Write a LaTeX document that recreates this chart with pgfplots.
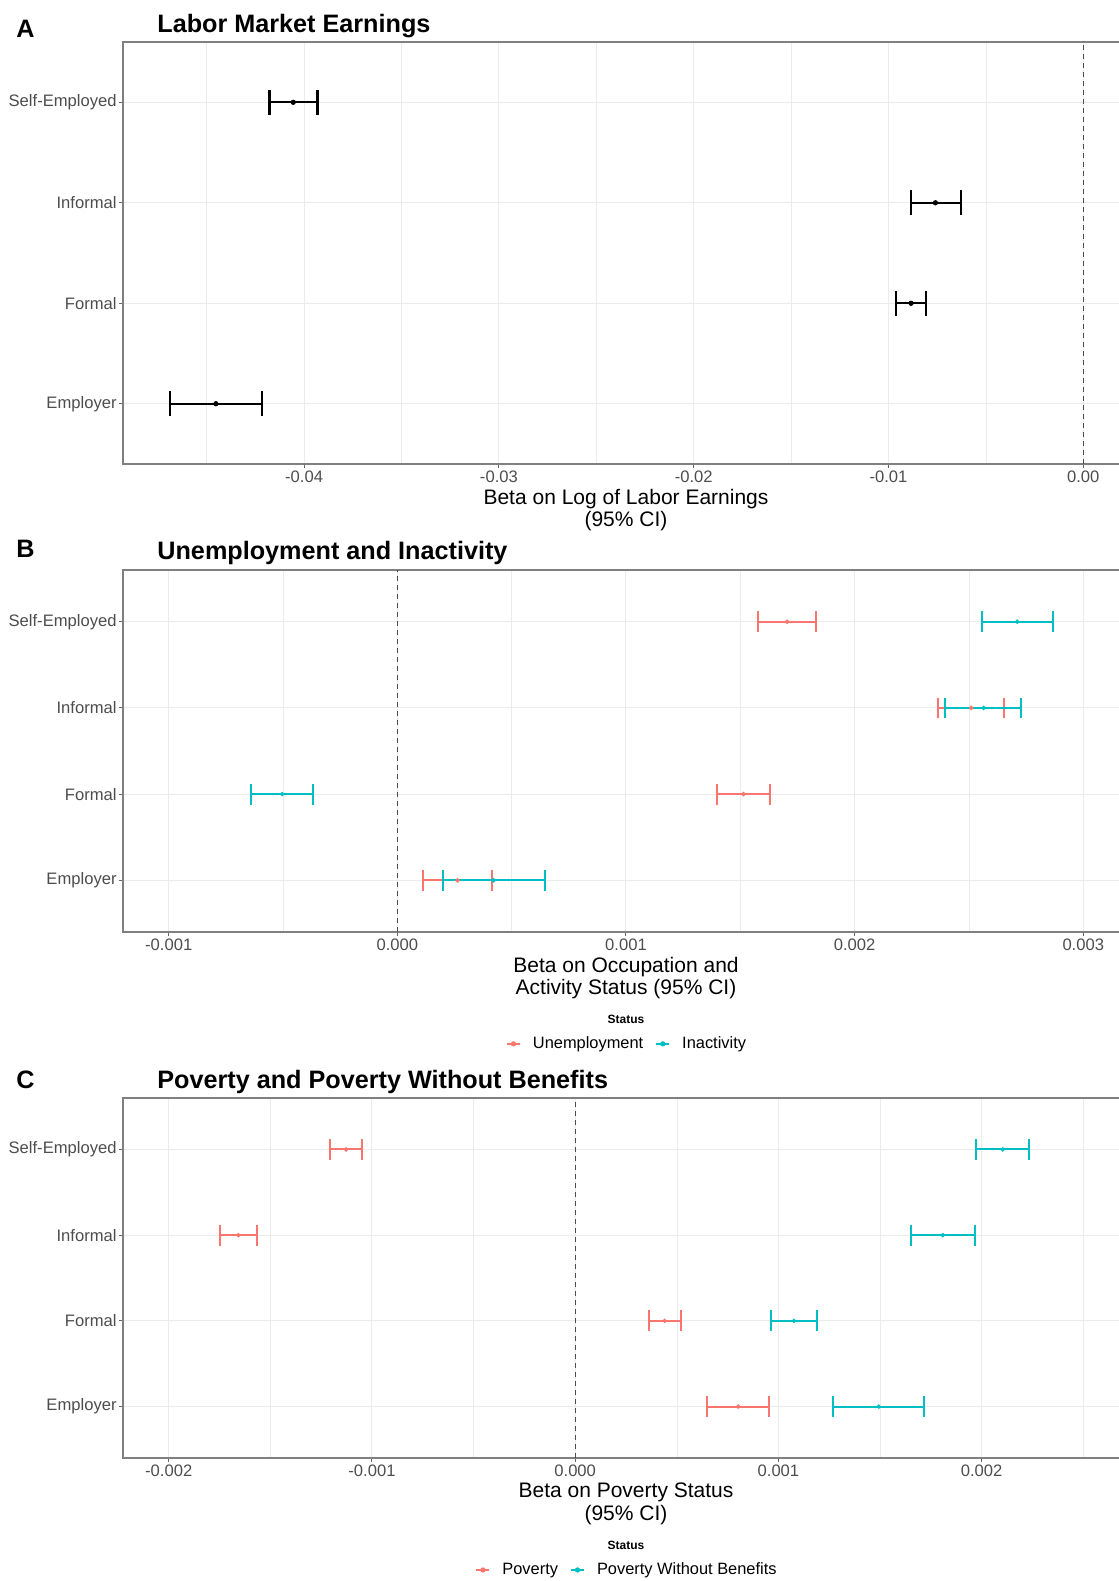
\documentclass[border=0pt]{standalone}
\usepackage{fontspec}
\setmainfont{Liberation Sans}
\usepackage{pgfplots}
\usepackage{pgfplotstable}
\pgfplotsset{compat=1.18}
\definecolor{redc}{HTML}{F8766D}
\definecolor{tealc}{HTML}{00BFC4}
\definecolor{gridc}{HTML}{EBEBEB}
\definecolor{tickc}{HTML}{4D4D4D}

% Panel A
\pgfplotstableread{
row est lo hi
4 -0.04056 -0.04177 -0.03932
3 -0.00759 -0.00885 -0.00628
2 -0.00884 -0.00961 -0.00808
1 -0.04453 -0.04689 -0.04215
}\tabA
% Panel B
\pgfplotstableread{
row est lo hi
4 0.001705 0.001579 0.001831
3 0.002510 0.002366 0.002653
2 0.001514 0.001399 0.001628
1 0.000263 0.000113 0.000414
}\tabUnemp
\pgfplotstableread{
row est lo hi
4 0.002711 0.002555 0.002868
3 0.002564 0.002397 0.002729
2 -0.000504 -0.000638 -0.000369
1 0.000421 0.000201 0.000644
}\tabInact
% Panel C
\pgfplotstableread{
row est lo hi
4 -0.001127 -0.001205 -0.001048
3 -0.001657 -0.001747 -0.001568
2 0.000440 0.000365 0.000520
1 0.000802 0.000648 0.000955
}\tabPov
\pgfplotstableread{
row est lo hi
4 0.002104 0.001970 0.002235
3 0.001809 0.001654 0.001965
2 0.001076 0.000962 0.001192
1 0.001494 0.001268 0.001718
}\tabPWB

\pgfplotsset{
  panel/.style={
    scale only axis, width=503pt, anchor=north west,
    ymin=0.4, ymax=4.6, ytick={1,2,3,4},
    yticklabels={Employer,Formal,Informal,Self-Employed},
    xmajorgrids, xminorgrids, ymajorgrids,
    major grid style={line width=0.5pt, draw=gridc},
    minor grid style={line width=0.3pt, draw=gridc},
    axis line style={draw=black!50, line width=0.6pt},
    tick align=outside, major tick length=2pt, minor tick length=0pt,
    tick style={draw=black!60, line width=0.5pt},
    xtick pos=lower, ytick pos=left,
    scaled x ticks=false,
    ticklabel style={font=\fontsize{8.3}{10}\selectfont, text=tickc},
    xticklabel style={inner sep=1.2pt},
    yticklabel style={inner sep=1pt},
    xlabel style={at={(axis description cs:0.5,0)}, anchor=north, yshift=-12.3pt,
      inner sep=0pt, align=center, font=\fontsize{10.5}{11.2}\selectfont},
    legend style={draw=none, fill=none, legend columns=2,
      font=\fontsize{8.2}{10}\selectfont, /tikz/column sep=6pt,
      nodes={inner sep=0pt}, inner sep=0pt},
  },
  zeroline/.style={forget plot, draw=black!70, line width=0.6pt, dash pattern=on 2.5pt off 2pt},
  blackbar/.style={only marks, mark=*, mark size=1.1pt, mark options={draw=black, fill=black},
    error bars/.cd, x dir=both, x explicit, error mark=|,
    error bar style={line width=1.2pt, draw=black},
    error mark options={line width=1.2pt, mark size=6.3pt, draw=black}},
  redbar/.style={only marks, mark=*, mark size=0.95pt, mark options={draw=redc, fill=redc},
    legend image code/.code={\draw[line width=1pt, redc] (0pt,0pt) -- (6.5pt,0pt);
      \fill[redc] (3.25pt,0pt) circle (1.1pt);},
    error bars/.cd, x dir=both, x explicit, error mark=|,
    error bar style={line width=1pt, draw=redc},
    error mark options={line width=1pt, mark size=5.2pt, draw=redc}},
  tealbar/.style={only marks, mark=*, mark size=0.95pt, mark options={draw=tealc, fill=tealc},
    legend image code/.code={\draw[line width=1pt, tealc] (0pt,0pt) -- (6.5pt,0pt);
      \fill[tealc] (3.25pt,0pt) circle (1.1pt);},
    error bars/.cd, x dir=both, x explicit, error mark=|,
    error bar style={line width=1pt, draw=tealc},
    error mark options={line width=1pt, mark size=5.2pt, draw=tealc}},
}

\begin{document}
\begin{tikzpicture}
\useasboundingbox (0,0) rectangle (559.5pt,-790.5pt);

% ---------- Panel A ----------
\begin{axis}[panel, at={(61.5pt,-21pt)}, height=211pt,
  xmin=-0.0493, xmax=0.00235,
  xtick={-0.04,-0.03,-0.02,-0.01,0}, xticklabels={-0.04,-0.03,-0.02,-0.01,0.00},
  minor xtick={-0.045,-0.035,-0.025,-0.015,-0.005},
  xlabel={Beta on Log of Labor Earnings\\(95\% CI)}]
\addplot[zeroline] coordinates {(0,0.4) (0,4.6)};
\addplot[blackbar] table[x=est, y=row,
  x error plus expr={\thisrow{hi}-\thisrow{est}},
  x error minus expr={\thisrow{est}-\thisrow{lo}}] {\tabA};
\end{axis}

% ---------- Panel B ----------
\begin{axis}[panel, at={(61.5pt,-285pt)}, height=181pt,
  xmin=-0.0012, xmax=0.0032,
  xtick={-0.001,0,0.001,0.002,0.003}, xticklabels={-0.001,0.000,0.001,0.002,0.003},
  minor xtick={-0.0005,0.0005,0.0015,0.0025},
  xlabel={Beta on Occupation and\\Activity Status (95\% CI)},
  legend style={at={(0.5,-0.309)}, anchor=center}]
\addplot[zeroline] coordinates {(0,0.4) (0,4.6)};
\addplot[redbar] table[x=est, y=row,
  x error plus expr={\thisrow{hi}-\thisrow{est}},
  x error minus expr={\thisrow{est}-\thisrow{lo}}] {\tabUnemp};
\addlegendentry{Unemployment}
\addplot[tealbar] table[x=est, y=row,
  x error plus expr={\thisrow{hi}-\thisrow{est}},
  x error minus expr={\thisrow{est}-\thisrow{lo}}] {\tabInact};
\addlegendentry{Inactivity}
\end{axis}

% ---------- Panel C ----------
\begin{axis}[panel, at={(61.5pt,-549pt)}, height=180pt,
  xmin=-0.002225, xmax=0.002725,
  xtick={-0.002,-0.001,0,0.001,0.002}, xticklabels={-0.002,-0.001,0.000,0.001,0.002},
  minor xtick={-0.0015,-0.0005,0.0005,0.0015,0.0025},
  xlabel={Beta on Poverty Status\\(95\% CI)},
  legend style={at={(0.5,-0.311)}, anchor=center}]
\addplot[zeroline] coordinates {(0,0.4) (0,4.6)};
\addplot[redbar] table[x=est, y=row,
  x error plus expr={\thisrow{hi}-\thisrow{est}},
  x error minus expr={\thisrow{est}-\thisrow{lo}}] {\tabPov};
\addlegendentry{Poverty}
\addplot[tealbar] table[x=est, y=row,
  x error plus expr={\thisrow{hi}-\thisrow{est}},
  x error minus expr={\thisrow{est}-\thisrow{lo}}] {\tabPWB};
\addlegendentry{Poverty Without Benefits}
\end{axis}

% ---------- Titles and panel letters ----------
\begin{scope}[every node/.style={inner sep=0pt, anchor=base west}]
\node[font=\bfseries\fontsize{12.6}{14}\selectfont] at (8pt,-18.6pt) {A};
\node[font=\bfseries\fontsize{12.6}{14}\selectfont] at (78.5pt,-16.05pt) {Labor Market Earnings};
\node[font=\bfseries\fontsize{12.6}{14}\selectfont] at (8pt,-278.5pt) {B};
\node[font=\bfseries\fontsize{12.6}{14}\selectfont] at (78.5pt,-279.85pt) {Unemployment and Inactivity};
\node[font=\bfseries\fontsize{12.6}{14}\selectfont] at (8pt,-544.3pt) {C};
\node[font=\bfseries\fontsize{12.6}{14}\selectfont] at (78.5pt,-544.1pt) {Poverty and Poverty Without Benefits};
\end{scope}
\node[font=\bfseries\fontsize{6}{7}\selectfont, inner sep=0pt] at (313pt,-509.75pt) {Status};
\node[font=\bfseries\fontsize{6}{7}\selectfont, inner sep=0pt] at (313pt,-772.85pt) {Status};
\end{tikzpicture}
\end{document}
